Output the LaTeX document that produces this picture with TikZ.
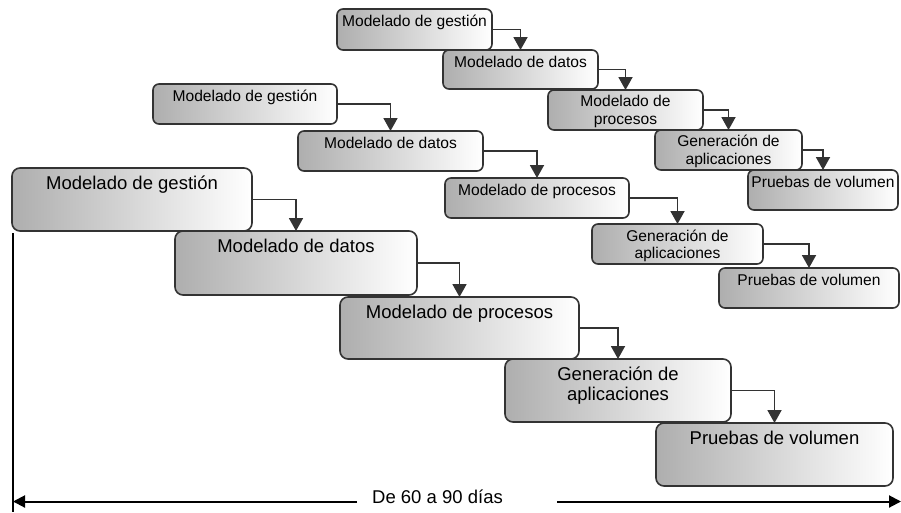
\documentclass[tikz,border=0pt]{standalone}
\usepackage{fontspec}
\setmainfont{Liberation Sans}
\usetikzlibrary{arrows.meta}

\definecolor{edge}{HTML}{333333}
\definecolor{shadeL}{HTML}{AEAEAE}
\definecolor{shadeR}{HTML}{FFFFFF}

\tikzset{
  stage/.style={draw=edge, line width=1.6pt, left color=shadeL, right color=shadeR,
    inner sep=0pt, outer sep=0pt, align=center, anchor=north west},
  bigstage/.style={stage, rounded corners=8pt, font=\fontsize{18.5}{20}\selectfont},
  midstage/.style={stage, rounded corners=6pt, font=\fontsize{15.6}{17.5}\selectfont},
  smallstage/.style={stage, rounded corners=6pt, font=\fontsize{15.6}{17.5}\selectfont},
  flow/.style={draw=edge, line width=1.8pt, -{Triangle[length=13pt,width=14pt]}},
  span/.style={draw=black, line width=2pt},
  spantip/.style={span, -{Triangle[length=12pt,width=12pt]}},
}

\begin{document}
\begin{tikzpicture}[x=1pt, y=-1pt]
  \useasboundingbox (0,0) rectangle (901,512);

  % largest cascade (text height = baseline of the last line below the top edge)
  \node[bigstage, minimum width=240pt, text height=21.5pt, text depth=41.5pt] (b1) at (12,168) {Modelado de gestión};
  \node[bigstage, minimum width=242pt, text height=21.5pt, text depth=42.5pt] (b2) at (175,231) {Modelado de datos};
  \node[bigstage, minimum width=239pt, text height=21.5pt, text depth=40.5pt] (b3) at (340,297) {Modelado de procesos};
  \node[bigstage, minimum width=226pt, text height=41.5pt, text depth=21.5pt] (b4) at (505,359) {Generación de\\aplicaciones};
  \node[bigstage, minimum width=237pt, text height=21.5pt, text depth=41.5pt] (b5) at (656,423) {Pruebas de volumen};

  % middle cascade
  \node[midstage, minimum width=184pt, text height=17.5pt, text depth=22.5pt] (m1) at (153,84) {Modelado de gestión};
  \node[midstage, minimum width=185pt, text height=17.5pt, text depth=22.5pt] (m2) at (298,131) {Modelado de datos};
  \node[midstage, minimum width=184pt, text height=17.5pt, text depth=22.5pt] (m3) at (445,178) {Modelado de procesos};
  \node[midstage, minimum width=171pt, text height=34.5pt, text depth=5.5pt] (m4) at (592,224) {Generación de\\aplicaciones};
  \node[midstage, minimum width=180pt, text height=17.5pt, text depth=22.5pt] (m5) at (719,268) {Pruebas de volumen};

  % smallest cascade
  \node[smallstage, minimum width=155pt, text height=17pt, text depth=24pt] (s1) at (337,9) {Modelado de gestión};
  \node[smallstage, minimum width=155pt, text height=17.5pt, text depth=21.5pt] (s2) at (443,50) {Modelado de datos};
  \node[smallstage, minimum width=155pt, text height=34pt, text depth=6pt] (s3) at (548,90) {Modelado de\\procesos};
  \node[smallstage, minimum width=147pt, text height=34pt, text depth=6pt] (s4) at (655,130) {Generación de\\aplicaciones};
  \node[smallstage, minimum width=150pt, text height=17pt, text depth=23pt] (s5) at (748,170) {Pruebas de volumen};

  % step connectors
  \foreach \a/\b in {b1/b2, b2/b3, b3/b4, b4/b5, m1/m2, m2/m3, m3/m4, m4/m5, s1/s2, s2/s3, s3/s4, s4/s5}
    \draw[flow] (\a.east) -| (\b.north);

  % time span
  \coordinate (vtop) at (13,233);
  \coordinate (vbot) at (13,512);
  \coordinate (spanL) at (13,501.5);
  \coordinate (gapL) at (357,501.5);
  \coordinate (gapR) at (557,501.5);
  \coordinate (spanR) at (901,501.5);
  \draw[span, line width=1.6pt] (vtop) -- (vbot);
  \draw[spantip] (gapL) -- (spanL);
  \draw[spantip] (gapR) -- (spanR);
  \node[font=\fontsize{18.5}{20}\selectfont, anchor=base, inner sep=0pt] (days) at (437.5,503.5) {De 60 a 90 días};
\end{tikzpicture}
\end{document}
